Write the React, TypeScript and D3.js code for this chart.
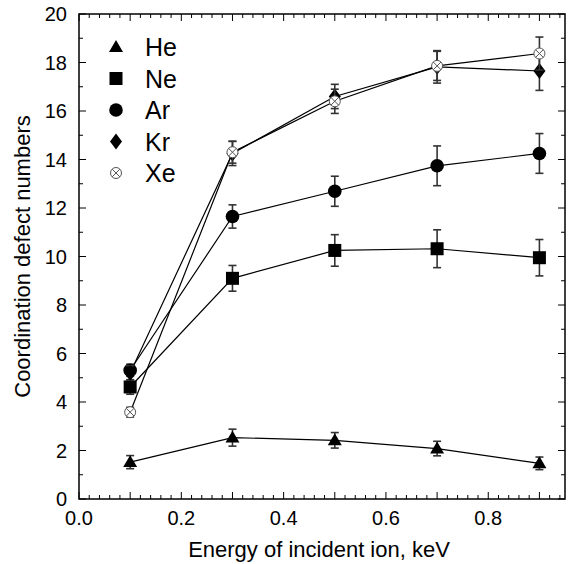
import React from 'react';
import * as d3 from 'd3';

const energies = [0.1, 0.3, 0.5, 0.7, 0.9];

const heValues = [1.52, 2.53, 2.42, 2.08, 1.47];
const heErrors = [0.27, 0.35, 0.32, 0.3, 0.26];
const neValues = [4.62, 9.1, 10.25, 10.32, 9.95];
const neErrors = [0.3, 0.53, 0.65, 0.78, 0.75];
const arValues = [5.31, 11.65, 12.69, 13.74, 14.25];
const arErrors = [0.25, 0.48, 0.62, 0.82, 0.82];
const krValues = [5.2, 14.25, 16.6, 17.82, 17.65];
const krErrors = [0.3, 0.5, 0.5, 0.67, 0.8];
const xeValues = [3.58, 14.3, 16.4, 17.86, 18.37];
const xeErrors = [0.2, 0.45, 0.5, 0.6, 0.68];

const seriesNames = ['He', 'Ne', 'Ar', 'Kr', 'Xe'];

const xTickLabels = [0, 0.2, 0.4, 0.6, 0.8];
const yTickLabels = [0, 2, 4, 6, 8, 10, 12, 14, 16, 18, 20];

const W = 573;
const H = 564;
const margin = { top: 14, right: 8, bottom: 65, left: 79 };

const font = '"Liberation Sans", Arial, sans-serif';

function Marker({ kind, x, y }) {
  if (kind === 'He') {
    const s = 7;
    return (
      <path
        d={`M${x},${y - s} L${x + s},${y + s * 0.7} L${x - s},${y + s * 0.7} Z`}
        fill="#000"
      />
    );
  }
  if (kind === 'Ne') {
    return <rect x={x - 6.5} y={y - 6.5} width={13} height={13} fill="#000" />;
  }
  if (kind === 'Ar') {
    return <circle cx={x} cy={y} r={6.8} fill="#000" />;
  }
  if (kind === 'Kr') {
    return (
      <path d={`M${x},${y - 8} L${x + 6},${y} L${x},${y + 8} L${x - 6},${y} Z`} fill="#000" />
    );
  }
  const r = 5.5;
  const d = r * 0.7;
  return (
    <g stroke="#555" strokeWidth={1} fill="#fff">
      <circle cx={x} cy={y} r={r} />
      <line x1={x - d} y1={y - d} x2={x + d} y2={y + d} />
      <line x1={x - d} y1={y + d} x2={x + d} y2={y - d} />
    </g>
  );
}

export default function App() {
  const x = d3.scaleLinear().domain([0, 0.95]).range([margin.left, W - margin.right]);
  const y = d3.scaleLinear().domain([0, 20]).range([H - margin.bottom, margin.top]);

  const series = [
    { name: 'He', values: heValues, errors: heErrors },
    { name: 'Ne', values: neValues, errors: neErrors },
    { name: 'Ar', values: arValues, errors: arErrors },
    { name: 'Kr', values: krValues, errors: krErrors },
    { name: 'Xe', values: xeValues, errors: xeErrors },
  ];

  const line = d3
    .line<number>()
    .x((_, i) => x(energies[i]))
    .y((d) => y(d));

  const x0 = margin.left;
  const x1 = W - margin.right;
  const y0 = H - margin.bottom;
  const y1 = margin.top;

  const xMinor = d3.range(0, 0.951, 0.02).map((v) => +v.toFixed(2));
  const yMinor = d3.range(0, 21, 1);

  return (
    <svg width={W} height={H} style={{ position: 'absolute', left: 0, top: 0 }}>
      <rect width={W} height={H} fill="#fff" />

      {/* ticks, all pointing inward */}
      <g stroke="#000" strokeWidth={1}>
        {xMinor.map((v) => {
          const major = Math.abs(Math.round(v * 10) - v * 10) < 1e-6;
          const len = major ? 7 : 4;
          return (
            <g key={'xt' + v}>
              <line x1={x(v)} x2={x(v)} y1={y0} y2={y0 - len} />
              <line x1={x(v)} x2={x(v)} y1={y1} y2={y1 + len} />
            </g>
          );
        })}
        {yMinor.map((v) => {
          const len = v % 2 === 0 ? 7 : 4;
          return (
            <g key={'yt' + v}>
              <line x1={x0} x2={x0 + len} y1={y(v)} y2={y(v)} />
              <line x1={x1} x2={x1 - len} y1={y(v)} y2={y(v)} />
            </g>
          );
        })}
      </g>
      <rect x={x0} y={y1} width={x1 - x0} height={y0 - y1} fill="none" stroke="#000" strokeWidth={1.5} />

      {/* tick labels */}
      <g fontFamily={font} fontSize={20} fill="#000">
        {xTickLabels.map((v) => (
          <text key={'xl' + v} x={x(v)} y={y0 + 26} textAnchor="middle">
            {d3.format('.1f')(v)}
          </text>
        ))}
        {yTickLabels.map((v) => (
          <text key={'yl' + v} x={x0 - 12} y={y(v) + 7} textAnchor="end">
            {v}
          </text>
        ))}
      </g>

      <text x={(x0 + x1) / 2 - 3} y={557} textAnchor="middle" fontFamily={font} fontSize={22}>
        Energy of incident ion, keV
      </text>
      <text
        transform={`translate(30,${(y0 + y1) / 2}) rotate(-90)`}
        textAnchor="middle"
        fontFamily={font}
        fontSize={22}
      >
        Coordination defect numbers
      </text>

      {/* lines */}
      {series.map((s) => (
        <path key={'l' + s.name} d={line(s.values) || ''} fill="none" stroke="#000" strokeWidth={1.2} />
      ))}

      {/* error bars and markers */}
      {series.map((s) => (
        <g key={'m' + s.name}>
          {s.values.map((v, i) => {
            const cx = x(energies[i]);
            const top = y(v + s.errors[i]);
            const bot = y(v - s.errors[i]);
            return (
              <g key={i}>
                <g stroke="#333" strokeWidth={1.6}>
                  <line x1={cx} x2={cx} y1={top} y2={bot} />
                  <line x1={cx - 4} x2={cx + 4} y1={top} y2={top} />
                  <line x1={cx - 4} x2={cx + 4} y1={bot} y2={bot} />
                </g>
                <Marker kind={s.name} x={cx} y={y(v)} />
              </g>
            );
          })}
        </g>
      ))}

      {/* legend */}
      {seriesNames.map((name, i) => (
        <g key={'lg' + name} transform={`translate(116,${47 + i * 31.5})`}>
          <Marker kind={name} x={0} y={0} />
          <text x={29} y={9} fontFamily={font} fontSize={25}>
            {name}
          </text>
        </g>
      ))}
    </svg>
  );
}
